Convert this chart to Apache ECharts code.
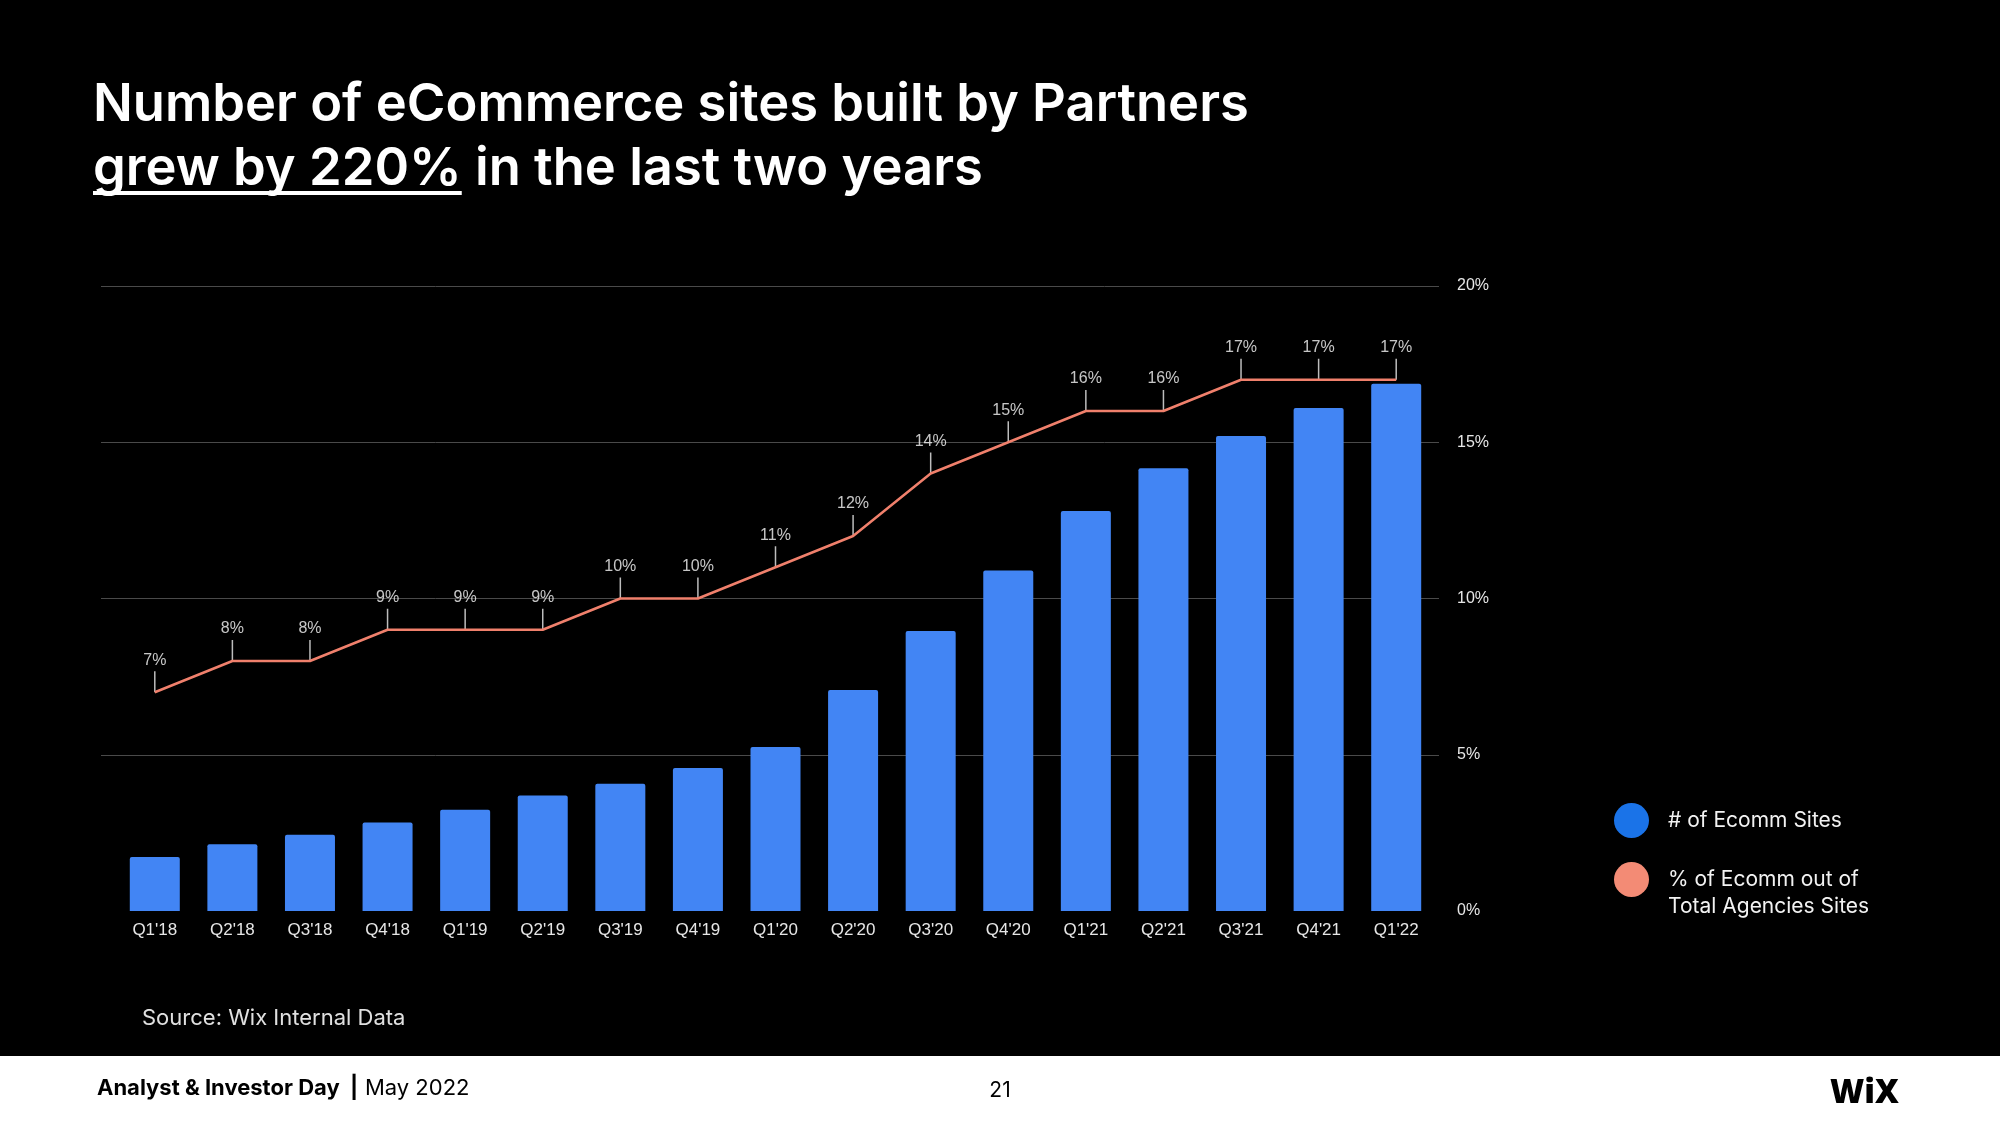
<!DOCTYPE html>
<html>
<head>
<meta charset="utf-8">
<script src="https://cdn.jsdelivr.net/npm/echarts@6/dist/echarts.min.js"></script>
<style>
html,body{margin:0;padding:0;background:#000;}
#chart{width:2000px;height:1125px;}
</style>
</head>
<body>
<div id="chart"></div>
<script>
// ---- data ----
const categories = ["Q1'18","Q2'18","Q3'18","Q4'18","Q1'19","Q2'19","Q3'19","Q4'19","Q1'20","Q2'20","Q3'20","Q4'20","Q1'21","Q2'21","Q3'21","Q4'21","Q1'22"];
// # of Ecomm sites (relative index)
const ecommSites = [1.73, 2.14, 2.44, 2.83, 3.24, 3.70, 4.07, 4.58, 5.25, 7.07, 8.96, 10.9, 12.8, 14.17, 15.2, 16.1, 16.87];
// % of Ecomm out of total agencies sites
const pctOfTotal = [7, 8, 8, 9, 9, 9, 10, 10, 11, 12, 14, 15, 16, 16, 17, 17, 17];
const pctTicks = [0, 5, 10, 15, 20];

const seriesNames = ['# of Ecomm Sites', '% of Ecomm out of\nTotal Agencies Sites'];
const titleLine1 = 'Number of eCommerce sites built by Partners';
const titleUnder = 'grew by 220%';
const titleRest = ' in the last two years';

const TITLE_FONT = '600 52.5px "Inter", "Noto Sans", sans-serif';
function measure(txt, font) {
  const c = document.createElement('canvas').getContext('2d');
  c.font = font;
  return c.measureText(txt).width;
}
const underW = measure(titleUnder, TITLE_FONT);

const chart = echarts.init(document.getElementById('chart'), null, {renderer: 'canvas'});
const axisFont = '"Liberation Sans", Arial, sans-serif';
const gridColor = '#4a4a4a';

const option = {
  backgroundColor: '#000000',
  animation: false,
  grid: [
    {left: 101, right: 561, top: 286, height: 625},
    {left: 116, right: 565, top: 286, height: 625}
  ],
  xAxis: [
    {type: 'value', gridIndex: 0, show: false, min: 0, max: 1},
    {type: 'category', gridIndex: 1, data: categories,
     axisLine: {show: false}, axisTick: {show: false},
     axisLabel: {color: '#e6e6e6', fontSize: 17, fontFamily: axisFont, margin: 11}}
  ],
  yAxis: [
    {type: 'value', gridIndex: 0, position: 'right', min: pctTicks[0], max: pctTicks[pctTicks.length-1], interval: pctTicks[1]-pctTicks[0],
     axisLine: {show: false}, axisTick: {show: false},
     splitLine: {lineStyle: {color: ['rgba(0,0,0,0)', gridColor, gridColor, gridColor, gridColor], width: 1}},
     axisLabel: {formatter: '{value}%', color: '#e6e6e6', fontSize: 16, fontFamily: axisFont, margin: 18}},
    {type: 'value', gridIndex: 1, min: 0, max: 20, show: false},
    {type: 'value', gridIndex: 1, min: pctTicks[0], max: pctTicks[pctTicks.length-1], show: false}
  ],
  legend: [
    {left: 1614, top: 803, padding: 0, icon: 'circle', itemWidth: 35, itemHeight: 35,
     textStyle: {color: '#f2f2f2', fontSize: 21, fontFamily: '"Inter", sans-serif', padding: [0,0,0,14], lineHeight: 27},
     data: [{name: seriesNames[0], itemStyle: {color: '#1A73E8'}}]},
    {left: 1614, top: 839, padding: 0, icon: 'circle', itemWidth: 35, itemHeight: 35,
     formatter: function (name) { return '\n' + name; },
     textStyle: {color: '#f2f2f2', fontSize: 21, fontFamily: '"Inter", sans-serif', padding: [0,0,0,14], lineHeight: 27},
     data: [{name: seriesNames[1], itemStyle: {color: '#F38B75'}}]}
  ],
  series: [
    {name: seriesNames[0], type: 'bar', xAxisIndex: 1, yAxisIndex: 1, data: ecommSites,
     barWidth: 50, itemStyle: {color: '#4285F4', borderRadius: [2,2,0,0]}, z: 2},
    {name: seriesNames[1], type: 'line', xAxisIndex: 1, yAxisIndex: 2, data: pctOfTotal,
     showSymbol: false, lineStyle: {color: '#F0806C', width: 2.5}, itemStyle: {color: '#F0806C'}, z: 4},
    {name: 'pct labels', type: 'scatter', xAxisIndex: 1, yAxisIndex: 2, data: pctOfTotal,
     symbol: 'rect', symbolSize: [1.5, 21], symbolOffset: [0, -10.5], silent: true, z: 3,
     itemStyle: {color: '#ececec'},
     label: {show: true, position: 'top', distance: 3, formatter: '{c}%', color: '#f7f7f7', fontSize: 16, fontFamily: axisFont}}
  ],
  graphic: [
    {type: 'text', left: 93, top: 79, style: {text: titleLine1, font: TITLE_FONT, fill: '#ffffff'}},
    {type: 'text', left: 93, top: 143, style: {text: titleUnder, font: TITLE_FONT, fill: '#ffffff'}},
    {type: 'text', left: 93 + underW, top: 143, style: {text: titleRest, font: TITLE_FONT, fill: '#ffffff'}},
    {type: 'rect', shape: {x: 93, y: 191, width: underW, height: 4}, style: {fill: '#ffffff'}},
    {type: 'text', left: 142, top: 1007, style: {text: 'Source: Wix Internal Data', font: '400 22px "Inter", sans-serif', fill: '#e0e0e0'}},
    {type: 'rect', shape: {x: 0, y: 1056, width: 2000, height: 69}, style: {fill: '#ffffff'}},
    {type: 'text', left: 97, top: 1077, style: {
      text: '{b|Analyst & Investor Day}{b|  |}  {r|May 2022}',
      rich: {b: {font: '700 22px "Inter", sans-serif', fill: '#000'}, r: {font: '400 22px "Inter", sans-serif', fill: '#000'}}}},
    {type: 'text', x: 1000, y: 1091, style: {text: '21', font: '400 21px "Inter", sans-serif', fill: '#000', align: 'center', verticalAlign: 'middle'}},
    {type: 'text', left: 1830, top: 1077, style: {text: 'WiX', font: '800 33px "Open Sans", sans-serif', fill: '#000'}}
  ]
};
chart.setOption(option);
</script>
</body>
</html>
